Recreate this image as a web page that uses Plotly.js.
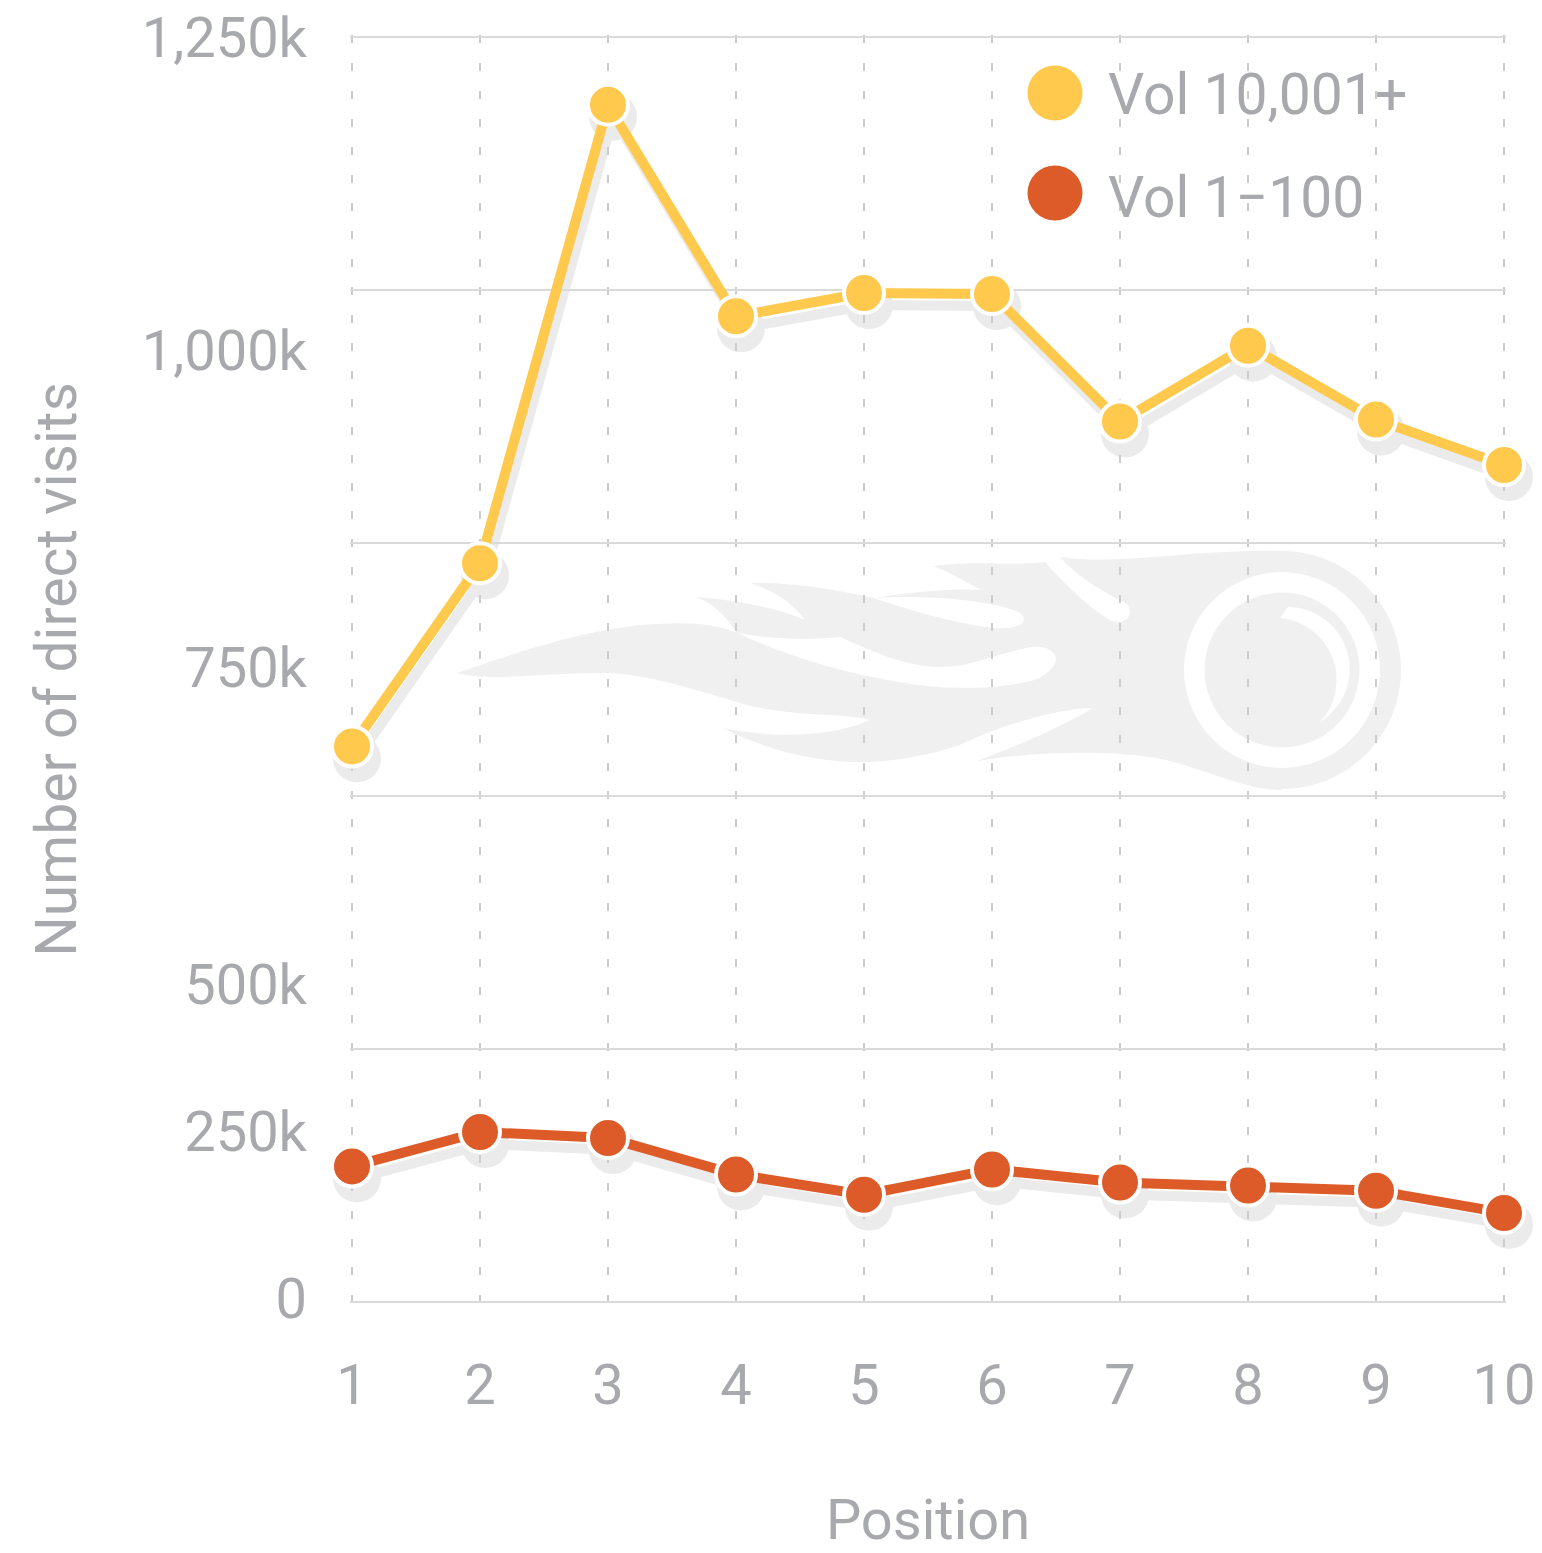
<!DOCTYPE html>
<html>
<head>
<meta charset="utf-8">
<script src="https://cdn.plot.ly/plotly-3.0.1.min.js"></script>
<style>html,body{margin:0;padding:0;background:#fff;}#chart{width:1542px;height:1553px;}</style>
</head>
<body>
<div id="chart"></div>
<script>
// ---- data ----
const positions = [1, 2, 3, 4, 5, 6, 7, 8, 9, 10];
const vol10001 = [549000, 730000, 1183000, 974000, 997000, 996000, 870000, 945000, 872000, 827000];
const vol1to100 = [134000, 168000, 162000, 126000, 106000, 131000, 118000, 115000, 110000, 88000];
const seriesNames = ['Vol 10,001+', 'Vol 1\u2212100'];
const yGridValues = [0, 250000, 500000, 750000, 1000000, 1250000];
const yTickLabels = ['0', '250k', '500k', '750k', '1,000k', '1,250k'];
const yTickLabelAt = [4000, 169000, 314000, 627000, 940000, 1250000];
const xTickLabels = positions.map(String);

// ---- styles / geometry ----
const W = 1542, H = 1553;
const L = 346, R = 1512, T = 31, B = 1318;
const pw = R - L, ph = B - T;
const px = x => (x - L) / pw;
const py = y => 1 - (y - T) / ph;
const YELLOW = '#FFC94D', ORANGE = '#DC5B28', SHADOW = '#ebebeb', GRAY = '#a7a9ac';
const FONT = 'Roboto, sans-serif';
const yMax = 1250000;
// plot-area pixel frame of the data (x=1..10 spans 352..1504, y=0..1250k spans 1302..37)
const X0 = 352, X1 = 1504, Y0 = 1302, Y1 = 37, PAD = 2, SH_DX = 5, SH_DY = 12;
const xPerPx = 9 / (X1 - X0), yPerPx = yMax / (Y0 - Y1);
const xRange = [1 - PAD * xPerPx, 10 + PAD * xPerPx];
const yRange = [-PAD * yPerPx, yMax + PAD * yPerPx];
const mainXDomain = [px(X0 - PAD), px(X1 + PAD)];
const mainYDomain = [py(Y0 + PAD), py(Y1 - PAD)];
const shXDomain = [px(X0 - PAD + SH_DX), px(X1 + PAD + SH_DX)];
const shYDomain = [py(Y0 + PAD + SH_DY), py(Y1 - PAD + SH_DY)];

// watermark (decorative logo) as inline svg
const WM = '#f0f0f0';
const svg = `<svg xmlns="http://www.w3.org/2000/svg" viewBox="440 530 980 280" width="980" height="280" preserveAspectRatio="none">
<path fill="${WM}" d="M457,673 C520,652 610,618 700,624 C715,626 728,629 737,633 C725,615 712,602 695,597 C735,600 775,607 805,620 C790,600 772,590 750,583 C800,582 845,592 875,598 C910,592 950,588 982,590 C965,582 950,572 933,566 C975,560 1015,566 1045,562 C1070,590 1095,612 1112,621 C1128,626 1136,610 1125,603 C1100,590 1075,575 1060,557 C1120,566 1200,548 1282,551 L1282,790 C1240,790 1200,765 1150,757 C1100,750 1030,752 977,761 C1020,745 1065,725 1093,708 C1060,708 1000,725 960,745 C930,755 895,762 860,762 C820,762 770,752 723,728 C770,738 830,738 870,720 C840,712 790,718 740,703 C690,688 640,672 600,673 C540,673 490,682 457,673 Z"/>
<circle cx="1282" cy="670" r="119" fill="${WM}"/>
<path fill="#fff" d="M737,633 C780,640 810,640 840,637 C870,650 905,667 940,667 C975,667 1005,650 1033,647 C1055,645 1062,660 1050,670 C1040,680 1030,682 1010,685 C970,690 930,688 900,682 C860,676 800,662 737,633 Z"/>
<path fill="#fff" d="M873,598 C910,596 950,597 990,604 C1010,608 1025,612 1024,620 C1022,628 1005,630 985,627 C950,622 910,610 873,598 Z"/>
<circle cx="1282" cy="670" r="98" fill="#fff"/>
<circle cx="1282" cy="670" r="77.5" fill="${WM}"/>
<path fill="#fff" d="M1288,607 A62,62 0 0 1 1320,722 A62,62 0 0 0 1280,618 Z"/>
</svg>`;

const common = {x: positions, mode: 'lines+markers', cliponaxis: false, hoverinfo: 'skip', showlegend: false};
const traces = [
  Object.assign({}, common, {y: vol10001, xaxis: 'x', yaxis: 'y', line: {color: SHADOW, width: 10}, marker: {size: 48, color: SHADOW}}),
  Object.assign({}, common, {y: vol1to100, xaxis: 'x', yaxis: 'y', line: {color: SHADOW, width: 10}, marker: {size: 48, color: SHADOW}}),
  Object.assign({}, common, {name: seriesNames[0], y: vol10001, xaxis: 'x2', yaxis: 'y2', line: {color: YELLOW, width: 10}, marker: {size: 40, color: YELLOW, line: {color: '#fff', width: 4}}}),
  Object.assign({}, common, {name: seriesNames[1], y: vol1to100, xaxis: 'x2', yaxis: 'y2', line: {color: ORANGE, width: 10}, marker: {size: 40, color: ORANGE, line: {color: '#fff', width: 4}}}),
  {x: [null], y: [null], xaxis: 'x2', yaxis: 'y3', mode: 'markers', showlegend: false, hoverinfo: 'skip'}
];

const legendY = [93, 193];
const legendColors = [YELLOW, ORANGE];
const shapes = legendY.map((yy, i) => ({
  type: 'circle', xref: 'paper', yref: 'paper', xsizemode: 'pixel', ysizemode: 'pixel',
  xanchor: px(1055), yanchor: py(yy), x0: -27.5, x1: 27.5, y0: -27.5, y1: 27.5,
  fillcolor: legendColors[i], line: {width: 0}
}));
const annotations = legendY.map((yy, i) => ({
  xref: 'paper', yref: 'paper', x: px(1106), y: py(yy + 2 + i * 2), xanchor: 'left', yanchor: 'middle',
  text: seriesNames[i], showarrow: false, font: {family: FONT, size: 57, color: GRAY}
}));

const layout = {
  width: W, height: H,
  margin: {l: L, r: W - R, t: T, b: H - B, autoexpand: false},
  paper_bgcolor: '#fff', plot_bgcolor: 'rgba(0,0,0,0)',
  showlegend: false, hovermode: false,
  font: {family: FONT, color: GRAY},
  xaxis: {domain: shXDomain, range: xRange, visible: false, anchor: 'y', fixedrange: true},
  yaxis: {domain: shYDomain, range: yRange, visible: false, anchor: 'x', fixedrange: true},
  xaxis2: {
    domain: mainXDomain, range: xRange, anchor: 'y2',
    tickmode: 'array', tickvals: positions, ticktext: xTickLabels,
    showgrid: true, gridcolor: '#cccccc', gridwidth: 2, griddash: '8px,20px',
    zeroline: false, showline: false, ticks: '', ticklabelstandoff: 43,
    tickfont: {family: FONT, size: 56, color: GRAY},
    title: {text: 'Position', font: {family: FONT, size: 56, color: GRAY}, standoff: 86}
  },
  yaxis2: {
    domain: mainYDomain, range: yRange, anchor: 'x2',
    tickmode: 'array', tickvals: yGridValues, showticklabels: false,
    showgrid: true, gridcolor: '#dadada', gridwidth: 2, zeroline: false, showline: false, ticks: ''
  },
  yaxis3: {
    overlaying: 'y2', anchor: 'x2', side: 'left', range: yRange,
    tickmode: 'array', tickvals: yTickLabelAt, ticktext: yTickLabels,
    showgrid: false, zeroline: false, showline: false, ticks: '', ticklabelstandoff: 42,
    tickfont: {family: FONT, size: 56, color: GRAY},
    title: {text: 'Number of direct visits', font: {family: FONT, size: 57, color: GRAY}, standoff: 46}
  },
  images: [{
    source: 'data:image/svg+xml;charset=utf-8,' + encodeURIComponent(svg),
    xref: 'paper', yref: 'paper', x: px(440), y: py(530), sizex: 980 / pw, sizey: 280 / ph,
    xanchor: 'left', yanchor: 'top', sizing: 'stretch', layer: 'below'
  }],
  shapes: shapes,
  annotations: annotations
};

Plotly.newPlot('chart', traces, layout, {displayModeBar: false, staticPlot: true});
</script>
</body>
</html>
